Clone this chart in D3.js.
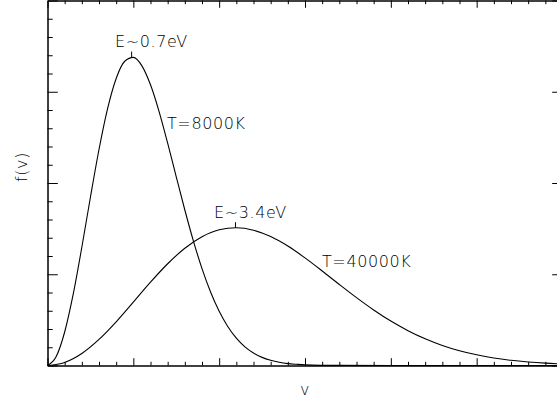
<!DOCTYPE html>
<html>
<head>
<meta charset="utf-8">
<script src="https://cdn.jsdelivr.net/npm/d3@7"></script>
<style>
  html, body { margin: 0; padding: 0; background: #fff; }
  svg text { font-family: "DejaVu Sans", sans-serif; font-size: 16px; font-weight: 200; fill: #000; letter-spacing: 0.6px; }
</style>
</head>
<body>
<div id="chart"></div>
<script>
// T = 8000K curve
var v1 = [0, 0.1, 0.2, 0.3, 0.4, 0.5, 0.6, 0.7, 0.8, 0.9, 1.0, 1.1, 1.2, 1.3, 1.4, 1.5,
          1.6, 1.7, 1.8, 1.9, 2.0, 2.1, 2.2, 2.3, 2.4, 2.5, 2.6, 2.7, 2.8, 2.9, 3.0, 3.4, 4.0, 5.0, 6.0];
var f1 = [0, 0.095, 0.367, 0.784, 1.296, 1.844, 2.367, 2.814, 3.145, 3.334, 3.377, 3.284, 3.076, 2.783, 2.436, 2.068,
          1.704, 1.364, 1.062, 0.805, 0.594, 0.428, 0.300, 0.205, 0.137, 0.089, 0.057, 0.035, 0.021, 0.013, 0.007, 0.001, 0, 0, 0];

// T = 40000K curve
var v2 = [0, 0.2, 0.4, 0.6, 0.8, 1.0, 1.2, 1.4, 1.6, 1.8, 2.0, 2.2, 2.4, 2.6, 2.8, 3.0,
          3.2, 3.4, 3.6, 3.8, 4.0, 4.2, 4.4, 4.6, 4.8, 5.0, 5.2, 5.4, 5.6, 5.8, 6.0];
var f2 = [0, 0.034, 0.132, 0.286, 0.479, 0.695, 0.913, 1.115, 1.285, 1.411, 1.487, 1.510, 1.483, 1.413, 1.309, 1.179,
          1.036, 0.888, 0.744, 0.609, 0.487, 0.382, 0.293, 0.220, 0.162, 0.117, 0.082, 0.057, 0.039, 0.026, 0.017];

var peakV = [0.98, 2.19];
var peakF = [3.38, 1.51];
var peakLabels = ["E~0.7eV", "E~3.4eV"];
var tempLabels = ["T=8000K", "T=40000K"];

var W = 557, H = 402;
var svg = d3.select("#chart").append("svg")
    .attr("xmlns", "http://www.w3.org/2000/svg")
    .attr("width", W).attr("height", H);

// plot box (right edge sits just outside the window)
var x = d3.scaleLinear().domain([0, 6]).range([47.5, 562.5]);
var y = d3.scaleLinear().domain([0, 4]).range([365.5, 0.5]);

var xMinor = d3.range(0, 6.01, 0.2).filter(function(d) { return Math.abs(d - Math.round(d)) > 1e-6; });
var yMinor = d3.range(0, 4.01, 0.2).filter(function(d) { return Math.abs(d - Math.round(d)) > 1e-6; });
var xMajor = d3.range(0, 7), yMajor = d3.range(0, 5);

function frameAxis(gen, tr, scale, vals, len) {
    var g = svg.append("g").attr("transform", tr)
        .call(gen(scale).tickValues(vals).tickSizeInner(len).tickSizeOuter(0).tickFormat(""));
    g.selectAll("line").attr("stroke", "#000");
    g.select(".domain").attr("stroke", "#000");
    return g;
}

// bottom / top (ticks point inward)
frameAxis(d3.axisTop, "translate(0,365.5)", x, xMajor, 7.3);
frameAxis(d3.axisTop, "translate(0,365.5)", x, xMinor, 3.7);
frameAxis(d3.axisBottom, "translate(0,0.5)", x, xMajor, 7.3);
frameAxis(d3.axisBottom, "translate(0,0.5)", x, xMinor, 3.7);
// left / right
frameAxis(d3.axisRight, "translate(47.5,0)", y, yMajor, 10.3);
frameAxis(d3.axisRight, "translate(47.5,0)", y, yMinor, 5.2);
frameAxis(d3.axisLeft, "translate(562.5,0)", y, yMajor, 10.3);
frameAxis(d3.axisLeft, "translate(562.5,0)", y, yMinor, 5.2);

// curves
var line = d3.line()
    .x(function(d) { return x(d[0]); })
    .y(function(d) { return y(d[1]); })
    .curve(d3.curveMonotoneX);

[d3.zip(v1, f1), d3.zip(v2, f2)].forEach(function(pts) {
    svg.append("path")
        .datum(pts)
        .attr("d", line)
        .attr("fill", "none")
        .attr("stroke", "#000")
        .attr("stroke-width", 1.1);
});

// peak marks and energy labels
var peakDx = [-16.5, -21.5];
peakV.forEach(function(v, i) {
    var px = x(v), py = y(peakF[i]);
    svg.append("line")
        .attr("x1", px).attr("x2", px)
        .attr("y1", py - 5.5).attr("y2", py)
        .attr("stroke", "#000");
    svg.append("text")
        .attr("x", px + peakDx[i])
        .attr("y", py - 10)
        .text(peakLabels[i]);
});

// temperature labels
var tempPos = [[167, 129], [322, 267]];
tempLabels.forEach(function(t, i) {
    svg.append("text")
        .attr("x", tempPos[i][0])
        .attr("y", tempPos[i][1])
        .text(t);
});

// axis titles
svg.append("text")
    .attr("x", 305).attr("y", 395)
    .attr("text-anchor", "middle")
    .text("v");
svg.append("text")
    .attr("transform", "translate(27,167) rotate(-90)")
    .attr("text-anchor", "middle")
    .text("f(v)");
</script>
</body>
</html>
